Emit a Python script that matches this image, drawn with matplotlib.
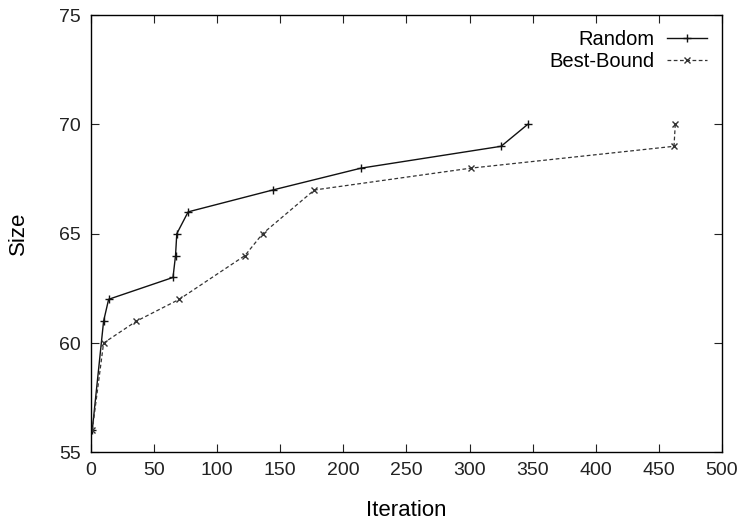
import matplotlib
matplotlib.use("Agg")
import matplotlib.pyplot as plt

plt.rcParams.update({
    "font.family": ["Liberation Sans", "DejaVu Sans"],
    "font.size": 14,
    "xtick.direction": "in", "ytick.direction": "in",
    "xtick.top": True, "ytick.right": True,
    "xtick.major.size": 5.5, "ytick.major.size": 5.5,
    "axes.linewidth": 1.0,
})

rand_x = [1, 10, 14, 65, 67, 68, 77, 144, 214, 325, 346]
rand_y = [56, 61, 62, 63, 64, 65, 66, 67, 68, 69, 70]
best_x = [1, 10, 36, 70, 122, 136, 177, 301, 462, 463]
best_y = [56, 60, 61, 62, 64, 65, 67, 68, 69, 70]

fig = plt.figure(figsize=(7.42, 5.22), dpi=100)
ax = fig.add_axes([0.1226, 0.1335, 0.8504, 0.8375])

ax.plot(rand_x, rand_y, color="#111111", lw=1.0, marker="+", ms=6, mew=1.0,
        label="Random")
ax.plot(best_x, best_y, color="#333333", lw=0.9, ls=(0, (3, 2)), marker="x",
        ms=4.5, mew=1.0, label="Best-Bound")

ax.set_xlim(0, 500)
ax.set_ylim(55, 75)
ax.set_xticks(range(0, 501, 50))
ax.set_yticks(range(55, 76, 5))
ax.set_xlabel("Iteration", fontsize=16, labelpad=15)
ax.set_ylabel("Size", fontsize=16, labelpad=22)
ax.tick_params(colors="#222222", pad=7, labelsize=14)

ax.legend(loc="upper right", frameon=False, markerfirst=False,
          handlelength=2.0, handletextpad=0.6, labelspacing=0.12,
          borderaxespad=0.35, fontsize=14.5)

fig.savefig("out.png", dpi=100)
